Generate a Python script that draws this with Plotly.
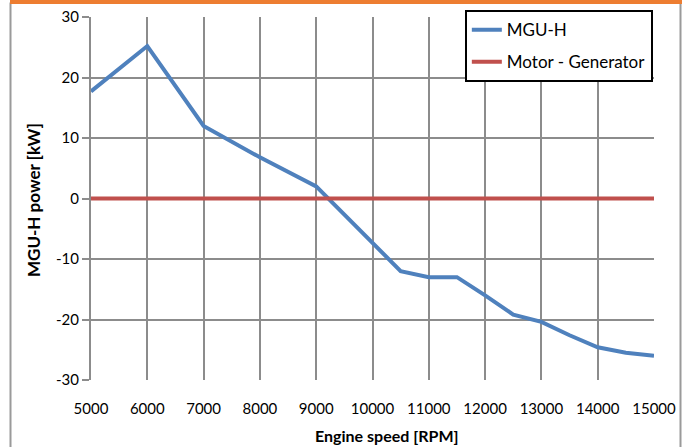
import plotly.graph_objects as go

# Engine speed (RPM) and MGU-H power (kW)
rpm = [5000, 6000, 7000, 8000, 9000, 10000, 10500, 11000, 11500, 12000,
       12500, 13000, 13500, 14000, 14500, 15000]
mguh_kw = [17.7, 25.2, 12.0, 6.8, 2.0, -7.3, -12.0, -13.0, -13.0, -16.0,
           -19.2, -20.4, -22.6, -24.6, -25.5, -26.0]
motor_gen_rpm = [5000, 15000]
motor_gen_kw = [0, 0]

x_ticks = list(range(5000, 15001, 1000))
y_ticks = list(range(-30, 31, 10))
y_tick_text = [str(v) for v in y_ticks]

FONT = "Lato"
GRID = "#8c8c8c"

fig = go.Figure()
fig.add_trace(go.Scatter(
    x=rpm, y=mguh_kw, mode="lines", name="MGU-H",
    line=dict(color="#4F81BD", width=4),
    legendgroup="a",
))
fig.add_trace(go.Scatter(
    x=motor_gen_rpm, y=motor_gen_kw, mode="lines", name="Motor - Generator",
    line=dict(color="#C0504D", width=4),
    legendgroup="b",
))

fig.update_layout(
    width=689, height=447,
    margin=dict(l=91, r=35, t=17, b=67, autoexpand=False),
    paper_bgcolor="white", plot_bgcolor="white",
    font=dict(family=FONT, size=15, color="black"),
    showlegend=True,
    legend=dict(
        x=0.664, y=1.019, xanchor="left", yanchor="top",
        bgcolor="white", bordercolor="black", borderwidth=2,
        font=dict(family=FONT, size=17, color="black"),
        tracegroupgap=7, itemwidth=30,
    ),
    xaxis=dict(
        range=[5000, 15000], tickvals=x_ticks, ticktext=[str(v) for v in x_ticks],
        showgrid=True, gridcolor=GRID, gridwidth=2,
        showline=False, zeroline=False, ticks="", ticklabelstandoff=18,
        tickfont=dict(family=FONT, size=15, color="black"),
    ),
    yaxis=dict(
        range=[-30, 30], tickvals=y_ticks, ticktext=y_tick_text,
        showgrid=True, gridcolor=GRID, gridwidth=2,
        showline=True, linecolor=GRID, linewidth=2, zeroline=False,
        ticks="outside", ticklen=7, tickcolor=GRID, tickwidth=2,
        tickfont=dict(family=FONT, size=15, color="black"),
    ),
    annotations=[
        dict(text="<b>Engine speed [RPM]</b>", xref="paper", yref="paper",
             x=(387 - 91) / 563, y=-(435 - 380) / 363, xanchor="center", yanchor="middle",
             showarrow=False, font=dict(family=FONT, size=16, color="black")),
        dict(text="<b>MGU-H power [kW]</b>", xref="paper", yref="paper",
             x=-(91 - 33) / 563, y=(380 - 200) / 363, xanchor="center", yanchor="middle",
             textangle=-90, showarrow=False, font=dict(family=FONT, size=17, color="black")),
    ],
    shapes=[
        # outer chart frame: grey sides, orange top band
        dict(type="line", xref="paper", yref="paper",
             x0=-(91 - 10.5) / 563, x1=-(91 - 10.5) / 563, y0=-0.3, y1=1.04,
             line=dict(color="#9a9a9a", width=2)),
        dict(type="line", xref="paper", yref="paper",
             x0=(680.5 - 91) / 563, x1=(680.5 - 91) / 563, y0=-0.3, y1=1.04,
             line=dict(color="#9a9a9a", width=2)),
        dict(type="rect", xref="paper", yref="paper",
             x0=-(91 - 10) / 563, x1=(682 - 91) / 563,
             y0=(380 - 4) / 363, y1=(380 + 2) / 363,
             line=dict(width=0), fillcolor="#ED7D31"),
    ],
)

fig.write_html("out.html")
